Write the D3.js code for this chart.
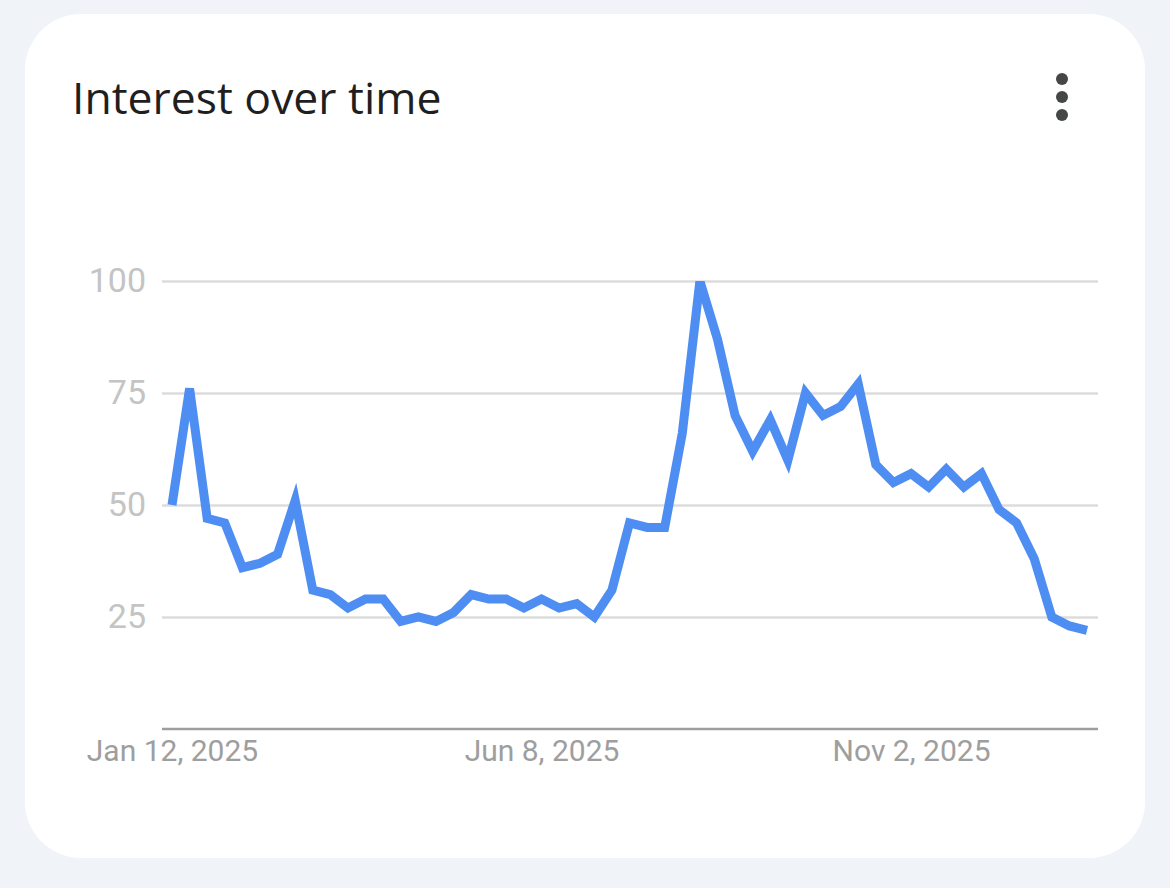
<!DOCTYPE html>
<html>
<head>
<meta charset="utf-8">
<script src="https://d3js.org/d3.v7.min.js"></script>
<style>
  html, body { margin: 0; padding: 0; background: #f0f4f9; }
  svg { display: block; }
</style>
</head>
<body>
<div id="chart"></div>
<script>
  // weekly interest values, starting Jan 12, 2025
  var startWeek = "2025-01-12";
  var values = [50, 76, 47, 46, 36, 37, 39, 51, 31, 30,
                27, 29, 29, 24, 25, 24, 26, 30, 29, 29,
                27, 29, 27, 28, 25, 31, 46, 45, 45, 66,
                100, 87, 70, 62, 69, 60, 75, 70, 72, 77,
                59, 55, 57, 54, 58, 54, 57, 49, 46, 38,
                25, 23, 22];
  var yTicks = [25, 50, 75, 100];
  var xTickLabels = ["2025-01-12", "2025-06-08", "2025-11-02"];

  var W = 1170, H = 888;
  var parse = d3.timeParse("%Y-%m-%d");
  var start = parse(startWeek);
  var data = values.map(function (v, i) {
    return { date: d3.timeWeek.offset(start, i), value: v };
  });

  var svg = d3.select("#chart").append("svg")
    .attr("width", W).attr("height", H);

  // card
  svg.append("rect")
    .attr("x", 25).attr("y", 14)
    .attr("width", 1120).attr("height", 844)
    .attr("rx", 56).attr("ry", 56)
    .style("fill", "#fff");

  svg.append("text")
    .attr("x", 72).attr("y", 114)
    .style("font-family", "'Open Sans', sans-serif")
    .style("font-size", "44.5px")
    .style("fill", "#1f1f1f")
    .text("Interest over time");

  // menu dots
  svg.append("g").selectAll("circle")
    .data([79, 97, 115])
    .enter().append("circle")
    .attr("cx", 1062).attr("cy", function (d) { return d; })
    .attr("r", 6)
    .style("fill", "#444746");

  var x = d3.scaleTime()
    .domain([data[0].date, data[data.length - 1].date])
    .range([172, 1087]);

  var y = d3.scaleLinear()
    .domain([0, 100])
    .range([729, 281]);

  var plotLeft = 162, plotRight = 1098;

  // gridlines
  svg.append("g")
    .attr("class", "grid")
    .attr("transform", "translate(" + plotLeft + ",0)")
    .call(d3.axisLeft(y).tickValues(yTicks).tickSize(-(plotRight - plotLeft)).tickFormat(""))
    .call(function (g) { g.select(".domain").remove(); })
    .selectAll("line")
    .style("stroke", "#dcdcdc")
    .style("stroke-width", 2.5);

  // y labels
  svg.append("g")
    .attr("transform", "translate(146,0)")
    .call(d3.axisLeft(y).tickValues(yTicks).tickSize(0).tickPadding(0))
    .call(function (g) { g.select(".domain").remove(); })
    .selectAll("text")
    .style("font-family", "Roboto, sans-serif")
    .style("font-size", "34px")
    .style("fill", "#c4c4c4");

  // baseline
  svg.append("line")
    .attr("x1", plotLeft).attr("x2", plotRight)
    .attr("y1", y(0)).attr("y2", y(0))
    .style("stroke", "#9e9e9e")
    .style("stroke-width", 2.5);

  // x labels
  var fmt = d3.timeFormat("%b %-d, %Y");
  svg.append("g")
    .attr("transform", "translate(0," + y(0) + ")")
    .call(d3.axisBottom(x).tickValues(xTickLabels.map(parse)).tickFormat(fmt).tickSize(0).tickPadding(11))
    .call(function (g) { g.select(".domain").remove(); })
    .selectAll("text")
    .style("font-family", "Roboto, sans-serif")
    .style("font-size", "30px")
    .style("fill", "#9e9e9e");

  var line = d3.line()
    .x(function (d) { return x(d.date); })
    .y(function (d) { return y(d.value); });

  svg.append("clipPath").attr("id", "plotclip")
    .append("rect")
    .attr("x", plotLeft).attr("y", y(100))
    .attr("width", plotRight - plotLeft).attr("height", y(0) - y(100));

  svg.append("path")
    .datum(data)
    .attr("clip-path", "url(#plotclip)")
    .attr("d", line)
    .style("fill", "none")
    .style("stroke", "#4e8ef2")
    .style("stroke-width", 9)
    .style("stroke-linejoin", "miter");
</script>
</body>
</html>
